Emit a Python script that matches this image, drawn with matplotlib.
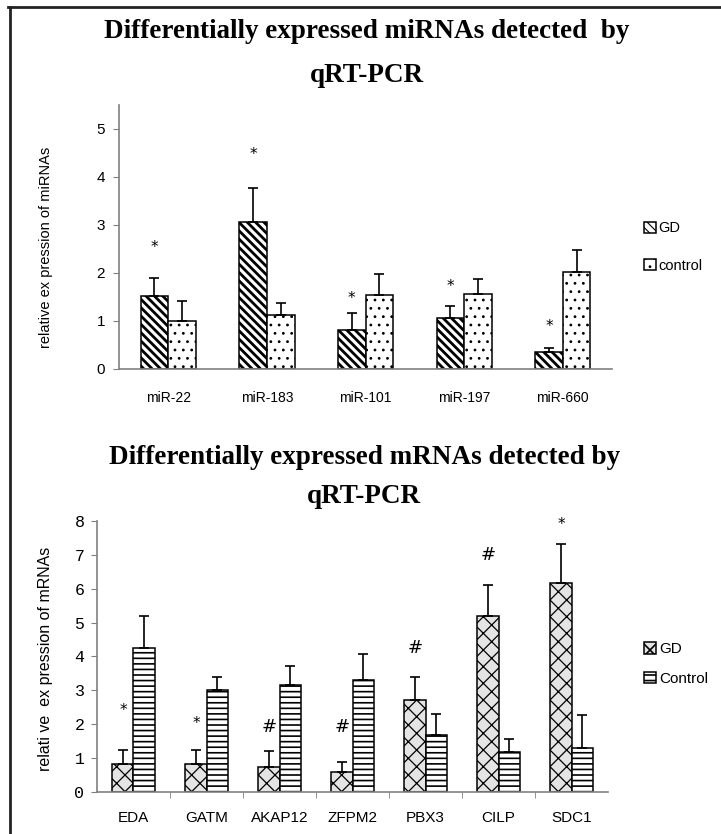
import numpy as np
import matplotlib
matplotlib.use("Agg")
import matplotlib.pyplot as plt
from matplotlib import font_manager
from matplotlib.lines import Line2D

# which narrow font is there
names = set(f.name for f in font_manager.fontManager.ttflist)
narrow = "Liberation Sans Narrow" if "Liberation Sans Narrow" in names else "Liberation Sans"

# top chart: miRNAs
mirnas = ["miR-22", "miR-183", "miR-101", "miR-197", "miR-660"]
mi_gd = [1.52, 3.06, 0.81, 1.07, 0.36]
mi_gd_err = [0.37, 0.72, 0.35, 0.25, 0.07]
mi_ctrl = [0.99, 1.12, 1.55, 1.57, 2.02]
mi_ctrl_err = [0.42, 0.26, 0.43, 0.30, 0.46]
mi_marks = ["*", "*", "*", "*", "*"]
mi_mark_y = [2.54, 4.47, 1.46, 1.71, 0.89]

# bottom chart: mRNAs
genes = ["EDA", "GATM", "AKAP12", "ZFPM2", "PBX3", "CILP", "SDC1"]
m_gd = [0.82, 0.82, 0.74, 0.58, 2.70, 5.18, 6.16]
m_gd_err = [0.42, 0.42, 0.46, 0.31, 0.70, 0.94, 1.17]
m_ctrl = [4.25, 3.00, 3.15, 3.30, 1.69, 1.17, 1.31]
m_ctrl_err = [0.93, 0.40, 0.57, 0.78, 0.62, 0.40, 0.97]
m_marks = ["*", "*", "#", "#", "#", "#", "*"]
m_mark_y = [2.40, 2.03, 1.93, 1.93, 4.26, 7.00, 7.90]

fig = plt.figure(figsize=(7.21, 8.34), dpi=100)
grey = "#808080"


def hatched_bars(ax, x, vals, errs, hatch, hlw, face):
    plt.rcParams["hatch.linewidth"] = hlw
    bars = ax.bar(x, vals, width=w, color=face, edgecolor="black",
                  linewidth=1.1, hatch=hatch, zorder=2)
    for p in bars:
        if hasattr(p, "set_hatch_linewidth"):
            p.set_hatch_linewidth(hlw)
    ax.errorbar(x, vals, yerr=[np.zeros(len(vals)), errs], fmt="none",
                ecolor="black", elinewidth=1.2, capsize=3.6, capthick=1.2, zorder=3)
    return bars


# ---- top ----
ax1 = fig.add_axes([0.165, 0.5576, 0.684, 0.3165])
w = 0.28
x1 = np.arange(len(mirnas))
b1 = hatched_bars(ax1, x1 - w / 2, mi_gd, mi_gd_err, "\\\\\\\\", 2.0, "white")
b2 = hatched_bars(ax1, x1 + w / 2, mi_ctrl, mi_ctrl_err, "..", 0.8, "white")
for i in range(len(mirnas)):
    ax1.text(x1[i] - w / 2, mi_mark_y[i], mi_marks[i], ha="center", va="center",
             fontsize=11, family="DejaVu Sans")
ax1.set_xlim(-0.5, len(mirnas) - 0.5)
ax1.set_ylim(0, 5.5)
ax1.set_yticks(range(6))
ax1.set_xticks(x1)
ax1.set_xticklabels(mirnas, family=narrow, fontsize=10)
ax1.tick_params(axis="x", length=0, pad=16)
ax1.tick_params(axis="y", length=4, color=grey, pad=6)
for t in ax1.get_yticklabels():
    t.set_family(narrow)
    t.set_fontsize(11)
for s in ["top", "right"]:
    ax1.spines[s].set_visible(False)
for s in ["left", "bottom"]:
    ax1.spines[s].set_color(grey)
    ax1.spines[s].set_linewidth(1.2)
ax1.set_ylabel("relative ex pression of miRNAs", fontsize=10.5, family="Liberation Sans")
ax1.yaxis.set_label_coords(-0.134, 0.46)
ax1.legend([b1, b2], ["GD", "control"], loc="center left",
           bbox_to_anchor=(0.883, 0.704), bbox_transform=fig.transFigure,
           frameon=False, handlelength=0.8, handleheight=0.8, handletextpad=0.2,
           labelspacing=1.6, borderpad=0, prop={"family": narrow, "size": 10.5})

# ---- bottom ----
ax2 = fig.add_axes([0.1345, 0.0504, 0.709, 0.325])
w = 0.29
x2 = np.arange(len(genes))
c1 = hatched_bars(ax2, x2 - w / 2, m_gd, m_gd_err, "xx", 0.9, "#e4e4e4")
c2 = hatched_bars(ax2, x2 + w / 2, m_ctrl, m_ctrl_err, "---", 1.2, "white")
for i in range(len(genes)):
    ax2.text(x2[i] - w / 2, m_mark_y[i], m_marks[i], ha="center", va="center",
             fontsize=13 if m_marks[i] == "#" else 11, family="DejaVu Sans")
ax2.set_xlim(-0.5, len(genes) - 0.5)
ax2.set_ylim(0, 8)
ax2.set_yticks(range(9))
ax2.set_xticks(x2)
ax2.set_xticklabels(genes, family=narrow, fontsize=11)
ax2.set_xticks(np.arange(0.5, len(genes) - 0.5), minor=True)
ax2.tick_params(axis="x", which="major", length=0, pad=14)
ax2.tick_params(axis="x", which="minor", length=4, color=grey, direction="out")
ax2.tick_params(axis="y", length=4, color=grey, pad=5)
for t in ax2.get_yticklabels():
    t.set_family("Liberation Mono")
    t.set_fontsize(12)
for s in ["top", "right"]:
    ax2.spines[s].set_visible(False)
for s in ["left", "bottom"]:
    ax2.spines[s].set_color(grey)
    ax2.spines[s].set_linewidth(1.2)
ax2.set_ylabel("relati ve  ex pression of mRNAs", fontsize=11.5, family="Liberation Sans")
ax2.yaxis.set_label_coords(-0.086, 0.49)
ax2.legend([c1, c2], ["GD", "Control"], loc="center left",
           bbox_to_anchor=(0.882, 0.204), bbox_transform=fig.transFigure,
           frameon=False, handlelength=0.8, handleheight=0.8, handletextpad=0.2,
           labelspacing=1.0, borderpad=0, prop={"family": narrow, "size": 11})

# titles
tfont = dict(family="Liberation Serif", weight="bold", fontsize=19.5, ha="center", va="center")
fig.text(0.509, 1 - 32 / 834, "Differentially expressed miRNAs detected  by", **tfont)
fig.text(0.509, 1 - 75 / 834, "qRT-PCR", **tfont)
fig.text(0.505, 1 - 458 / 834, "Differentially expressed mRNAs detected by", **tfont)
fig.text(0.505, 1 - 497 / 834, "qRT-PCR", **tfont)

# frame lines of the picture
fig.add_artist(Line2D([8 / 721, 1], [1 - 7 / 834, 1 - 7 / 834], color="#222222", lw=2))
fig.add_artist(Line2D([10 / 721, 10 / 721], [0, 1 - 7 / 834], color="#222222", lw=2))

fig.savefig("out.png", dpi=100)
